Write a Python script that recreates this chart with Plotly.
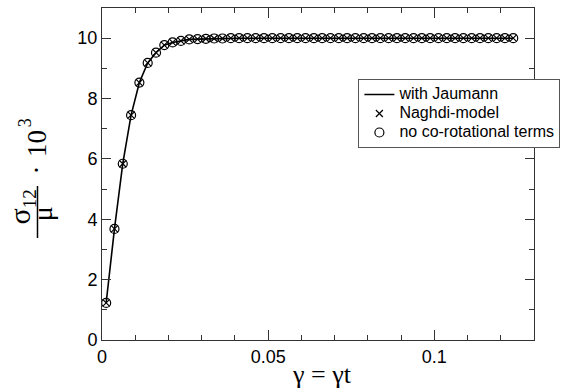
import plotly.graph_objects as go

# ---- data ----
n_points = 50
gamma = [0.00125 + 0.0025 * i for i in range(n_points)]  # strain sample positions

jaumann = [1.23, 3.68, 5.84, 7.45, 8.53, 9.18, 9.52, 9.77, 9.86, 9.91,
           9.96, 9.97, 9.98, 9.99, 9.99] + [10.0] * 35
naghdi = [1.23, 3.68, 5.84, 7.45, 8.53, 9.18, 9.52, 9.77, 9.86, 9.91,
          9.96, 9.97, 9.98, 9.99, 9.99] + [10.0] * 35
no_corot = [1.23, 3.68, 5.84, 7.45, 8.53, 9.18, 9.52, 9.77, 9.86, 9.91,
            9.96, 9.97, 9.98, 9.99, 9.99] + [10.0] * 35

series_names = ["with Jaumann", "Naghdi-model", "no co-rotational terms"]

x_tickvals = [0, 0.05, 0.1]
x_ticktext = ["0", "0.05", "0.1"]
y_tickvals = [0, 2, 4, 6, 8, 10]
y_ticktext = ["0", "2", "4", "6", "8", "10"]

# ---- layout constants ----
W, H = 568, 390
ML, MR, MT, MB = 102, 24, 8, 50
PW = W - ML - MR
PH = H - MT - MB


def px(xp):
    return (xp - ML) / PW


def py(yp):
    return (H - MB - yp) / PH


SANS = "Liberation Sans, Arial, sans-serif"
SERIF = "Liberation Serif, Times New Roman, serif"
AX = "#333333"


def legend_label(s):
    return '<span style="font-size:16px">' + s + "</span>"


fig = go.Figure()
fig.add_trace(go.Scatter(x=gamma, y=jaumann, mode="lines", name=legend_label(series_names[0]),
                         line=dict(color="black", width=1.6)))
fig.add_trace(go.Scatter(x=gamma, y=naghdi, mode="markers", name=legend_label(series_names[1]),
                         marker=dict(symbol="x-thin-open", size=7, color="black",
                                     line=dict(color="black", width=1.2))))
fig.add_trace(go.Scatter(x=gamma, y=no_corot, mode="markers", name=legend_label(series_names[2]),
                         marker=dict(symbol="circle-open", size=9, color="black",
                                     line=dict(color="black", width=1.2))))

axis_common = dict(showline=True, linecolor=AX, linewidth=1, mirror="ticks",
                   ticks="inside", tickcolor=AX, showgrid=False, zeroline=False,
                   tickfont=dict(family=SANS, size=18, color="black"))

fig.update_xaxes(range=[0, 0.13], tickmode="array", tickvals=x_tickvals,
                 ticktext=x_ticktext, ticklen=10,
                 minor=dict(dtick=0.01, tick0=0, ticklen=5, ticks="inside", tickcolor=AX),
                 **axis_common)
fig.update_yaxes(range=[0, 11], tickmode="array", tickvals=y_tickvals,
                 ticktext=y_ticktext, ticklen=9,
                 minor=dict(dtick=1, tick0=0, ticklen=5, ticks="inside", tickcolor=AX),
                 **axis_common)

# rotated y-axis title pieces: (text, centre x px, centre y px, font size)
ytitle_parts = [
    ("σ", 17.5, 216, 30),
    ("12", 27.5, 199, 19),
    ("μ", 42, 214, 28),
    ("·", 35, 170, 27),
    ("10", 35, 143.5, 27),
    ("3", 24, 122.5, 18),
]
annotations = []
for txt, cx, cy, fs in ytitle_parts:
    annotations.append(dict(text=txt, x=px(cx), y=py(cy), xref="paper", yref="paper",
                            showarrow=False, textangle=-90,
                            xanchor="center", yanchor="middle",
                            font=dict(family=SERIF, size=fs, color="black")))
annotations.append(dict(text="γ = γt", x=px(327), y=py(374), xref="paper", yref="paper",
                        showarrow=False, xanchor="center", yanchor="middle",
                        font=dict(family=SERIF, size=26, color="black")))

fig.update_layout(
    width=W, height=H,
    margin=dict(l=ML, r=MR, t=MT, b=MB),
    paper_bgcolor="white", plot_bgcolor="white",
    annotations=annotations,
    shapes=[dict(type="line", xref="paper", yref="paper",
                 x0=px(36), x1=px(36), y0=py(186), y1=py(238),
                 line=dict(color="black", width=1.5))],
    legend=dict(x=px(571), y=py(79), xanchor="right", yanchor="top",
                bgcolor="white", bordercolor="#555555", borderwidth=1,
                font=dict(family=SANS, size=12, color="black"),
                itemwidth=30, tracegroupgap=0),
    showlegend=True,
)

fig.write_html("out.html", config={"displayModeBar": False},
               post_script="document.body.style.margin='0';document.body.style.padding='0';")
